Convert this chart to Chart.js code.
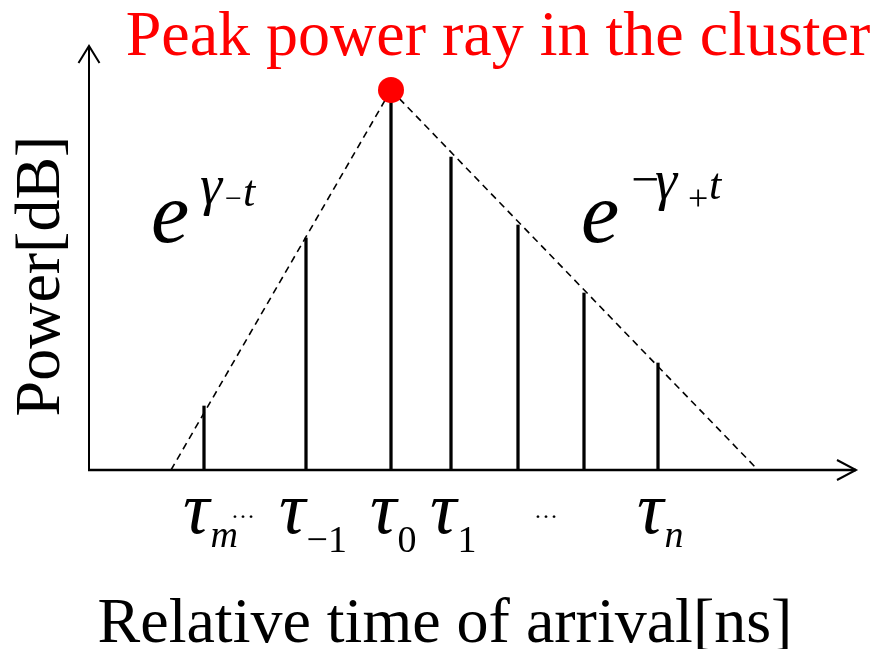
<!DOCTYPE html>
<html>
<head>
<meta charset="utf-8">
<script src="https://cdn.jsdelivr.net/npm/chart.js@4.4.1/dist/chart.umd.min.js"></script>
<style>
  html, body { margin: 0; padding: 0; background: #fff; }
  canvas { display: block; }
</style>
</head>
<body>
<canvas id="clusterChart" width="875" height="649"></canvas>
<script>
// --- Data (time relative to the peak ray, power above floor) ---
const rayTimes = [-18.7, -8.5, 0, 6.0, 12.7, 19.3, 26.7];
const rayPowers = [6.4, 23.2, 38.0, 31.3, 24.5, 17.7, 10.7];
const raySubs = ["m", "\u22121", "0", "1", null, null, "n"];
const dotTimes = [-14.8, 15.5];

// envelope lines
const riseTimes = [-22.0, 0];
const risePowers = [0, 38.0];
const decayTimes = [0, 36.7];
const decayPowers = [38.0, 0];

const peakIdx = rayPowers.indexOf(Math.max(...rayPowers));

const toPoints = (xs, ys) => xs.map((x, i) => ({ x: x, y: ys[i] }));

const SERIF = "'Liberation Serif', 'Times New Roman', serif";

// --- Axes with open arrow heads ---
const arrowAxes = {
    id: "arrowAxes",
    beforeDatasetsDraw(chart) {
        const { ctx, chartArea: a } = chart;
        ctx.save();
        ctx.strokeStyle = "#000";
        ctx.lineCap = "butt";
        // y axis
        ctx.lineWidth = 2;
        ctx.beginPath();
        ctx.moveTo(a.left, a.bottom + 1);
        ctx.lineTo(a.left, a.top);
        ctx.moveTo(a.left - 10.5, a.top + 17);
        ctx.lineTo(a.left, a.top);
        ctx.lineTo(a.left + 10.5, a.top + 17);
        ctx.stroke();
        // x axis
        ctx.lineWidth = 2.5;
        ctx.beginPath();
        ctx.moveTo(a.left - 1, a.bottom);
        ctx.lineTo(a.right, a.bottom);
        ctx.stroke();
        ctx.lineWidth = 2;
        ctx.beginPath();
        ctx.moveTo(a.right - 19, a.bottom - 10);
        ctx.lineTo(a.right, a.bottom);
        ctx.lineTo(a.right - 19, a.bottom + 10);
        ctx.stroke();
        ctx.restore();
    }
};

// --- Texts: title, axis titles, tau labels, envelope formulas ---
const annotations = {
    id: "annotations",
    afterDraw(chart) {
        const { ctx } = chart;
        const xs = chart.scales.x;
        ctx.save();
        ctx.textBaseline = "alphabetic";

        // title
        ctx.fillStyle = "#ff0000";
        ctx.font = "64px " + SERIF;
        ctx.textAlign = "center";
        ctx.fillText("Peak power ray in the cluster", 498, 55);

        // x title
        ctx.fillStyle = "#000";
        ctx.fillText("Relative time of arrival[ns]", 445, 642);

        // y title
        ctx.save();
        ctx.translate(59, 276);
        ctx.rotate(-Math.PI / 2);
        ctx.fillText("Power[dB]", 0, 0);
        ctx.restore();

        // tau labels
        ctx.textAlign = "left";
        raySubs.forEach((sub, i) => {
            if (sub === null) return;
            const px = xs.getPixelForValue(rayTimes[i]);
            const left = px - 19 - (sub.length > 1 ? 6 : 0);
            ctx.font = "italic 74px " + SERIF;
            ctx.fillText("\u03c4", left - 2, 533);
            const w = ctx.measureText("\u03c4").width;
            const italicSub = /[a-z]/.test(sub);
            ctx.font = (italicSub ? "italic " : "") + "38px " + SERIF;
            ctx.fillText(sub, left + w - 1, italicSub ? 547 : 552);
        });

        // ellipses
        ctx.textAlign = "center";
        ctx.font = "24px " + SERIF;
        dotTimes.forEach(t => {
            ctx.fillText("\u2026", xs.getPixelForValue(t), 518);
        });

        // rise formula e^{gamma_- t}
        ctx.textAlign = "left";
        ctx.font = "italic 86px " + SERIF;
        ctx.fillText("e", 151, 242);
        ctx.font = "italic 56px " + SERIF;
        ctx.fillText("\u03b3", 200, 204);
        ctx.font = "30px " + SERIF;
        ctx.fillText("\u2212", 225, 208);
        ctx.font = "italic 44px " + SERIF;
        ctx.fillText("t", 243, 206);

        // decay formula e^{-gamma_+ t}
        ctx.font = "italic 86px " + SERIF;
        ctx.fillText("e", 581, 242);
        ctx.font = "50px " + SERIF;
        ctx.fillText("\u2212", 631, 196);
        ctx.font = "italic 56px " + SERIF;
        ctx.fillText("\u03b3", 655, 199);
        ctx.font = "36px " + SERIF;
        ctx.fillText("+", 688, 210);
        ctx.font = "italic 44px " + SERIF;
        ctx.fillText("t", 709, 199);

        ctx.restore();
    }
};

const ctx = document.getElementById("clusterChart").getContext("2d");

const clusterChart = new Chart(ctx, {
    type: "bar",
    data: {
        datasets: [
            {
                type: "line",
                label: "peak",
                data: [{ x: rayTimes[peakIdx], y: rayPowers[peakIdx] }],
                showLine: false,
                pointRadius: 13,
                pointBackgroundColor: "#ff0000",
                pointBorderWidth: 0,
                clip: false,
                order: 0
            },
            {
                type: "bar",
                label: "rays",
                data: toPoints(rayTimes, rayPowers),
                backgroundColor: "#000",
                barThickness: 2.6,
                clip: false,
                order: 1
            },
            {
                type: "line",
                label: "rise",
                data: toPoints(riseTimes, risePowers),
                borderColor: "#000",
                borderWidth: 1.6,
                borderDash: [7, 5],
                pointRadius: 0,
                clip: false,
                order: 2
            },
            {
                type: "line",
                label: "decay",
                data: toPoints(decayTimes, decayPowers),
                borderColor: "#000",
                borderWidth: 1.6,
                borderDash: [7, 5],
                pointRadius: 0,
                clip: false,
                order: 2
            }
        ]
    },
    options: {
        responsive: false,
        animation: false,
        layout: { padding: { left: 89, right: 19, top: 46, bottom: 179 } },
        plugins: { legend: { display: false }, tooltip: { enabled: false }, title: { display: false } },
        scales: {
            x: { type: "linear", min: -30.2, max: 46.5, offset: false, display: false },
            y: { type: "linear", min: 0, max: 42.4, display: false }
        }
    },
    plugins: [arrowAxes, annotations]
});
</script>
</body>
</html>
